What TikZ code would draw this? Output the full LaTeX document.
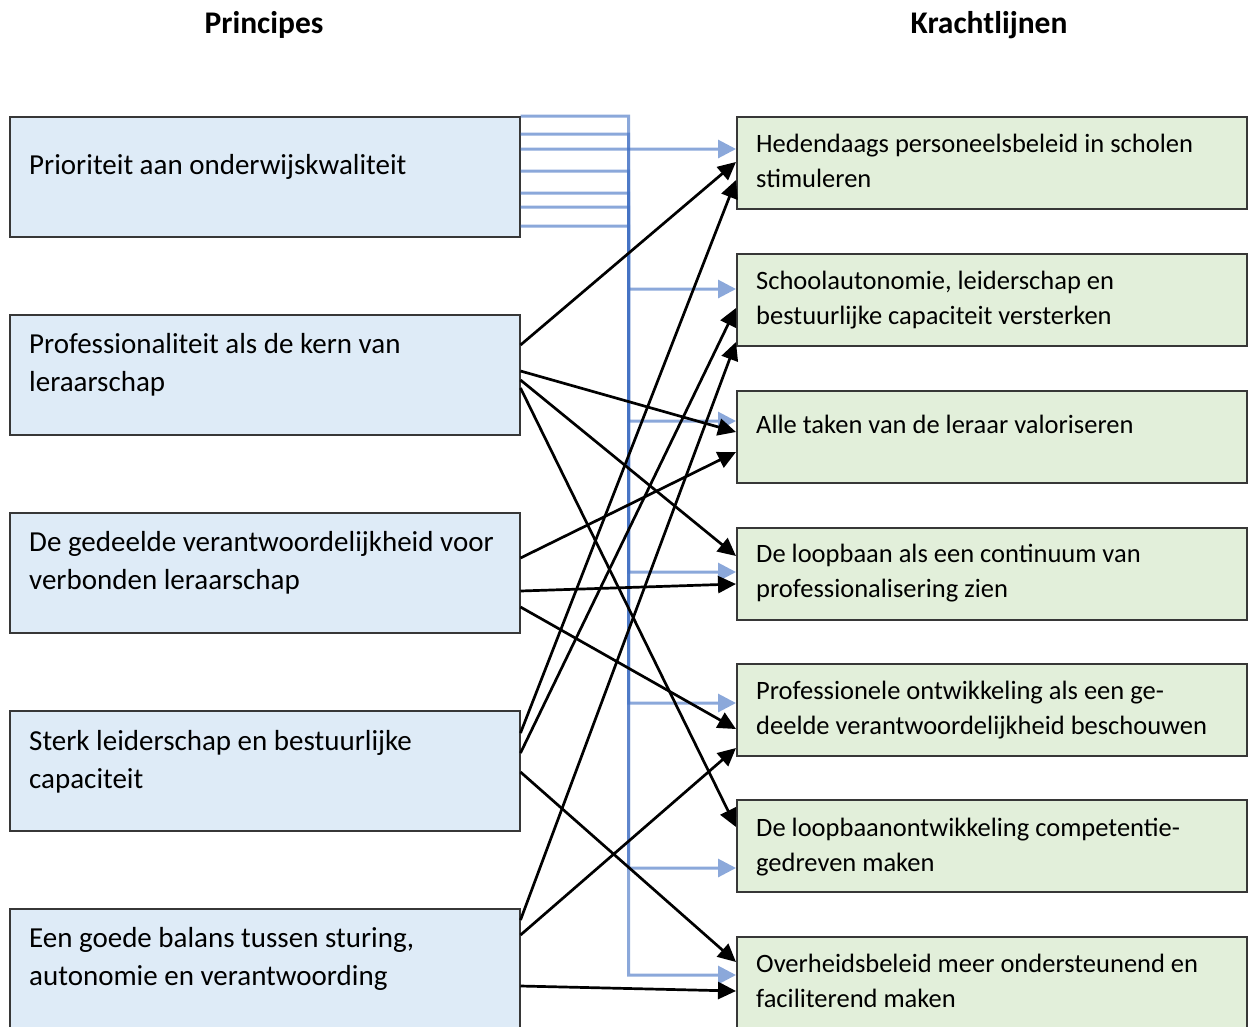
\documentclass[tikz,border=0pt]{standalone}
\usepackage{fontspec}
\setmainfont{Carlito}
\usetikzlibrary{arrows.meta}
\definecolor{boxblue}{RGB}{222,235,247}
\definecolor{boxgreen}{RGB}{226,239,218}
\definecolor{edgegray}{RGB}{55,55,55}
\definecolor{linkblue}{RGB}{68,114,196}
\begin{document}
\begin{tikzpicture}[x=1pt,y=-1pt,
  principle/.style={draw=edgegray,line width=1.5pt,fill=boxblue,minimum width=510pt,minimum height=120pt,inner sep=0pt,anchor=north west},
  krachtlijn/.style={draw=edgegray,line width=1.5pt,fill=boxgreen,minimum width=510pt,minimum height=92pt,inner sep=0pt,anchor=north west},
  ltext/.style={anchor=base west,inner sep=0pt,align=left,font=\fontsize{29}{38}\selectfont},
  rtext/.style={anchor=base west,inner sep=0pt,align=left,font=\fontsize{26.5}{35}\selectfont},
  coltitle/.style={anchor=base,inner sep=0pt,font=\bfseries\fontsize{31.5}{36}\selectfont},
  linkgroup/.style={transparency group,opacity=0.62},
  link/.style={draw=linkblue,line width=3pt,-{Triangle[length=18pt,width=18pt]}},
  arr/.style={draw=black,line width=2.7pt,-{Triangle[length=18pt,width=17pt]}}
]
\clip (0,0) rectangle (1253,1026);

% titles
\node[coltitle] (tp) at (264,33) {Principes};
\node[coltitle] (tk) at (989,33) {Krachtlijnen};

% left boxes
\node[principle] (L1) at (9,116) {};
\node[principle] (L2) at (9,314) {};
\node[principle] (L3) at (9,512) {};
\node[principle] (L4) at (9,710) {};
\node[principle, minimum height=125pt] (L5) at (9,908) {};

% right boxes
\node[krachtlijn] (R1) at (736,116) {};
\node[krachtlijn] (R2) at (736,253) {};
\node[krachtlijn] (R3) at (736,390) {};
\node[krachtlijn] (R4) at (736,527) {};
\node[krachtlijn] (R5) at (736,663) {};
\node[krachtlijn] (R6) at (736,799) {};
\node[krachtlijn, minimum height=96pt] (R7) at (736,936) {};

% texts (anchor = baseline of the last line)
\node[ltext] (tL1) at (29,174) {Prioriteit aan onderwijskwaliteit};
\node[ltext] (tL2) at (29,391) {Professionaliteit als de kern van\\leraarschap};
\node[ltext] (tL3) at (29,589) {De gedeelde verantwoordelijkheid voor\\verbonden leraarschap};
\node[ltext] (tL4) at (29,788) {Sterk leiderschap en bestuurlijke\\capaciteit};
\node[ltext] (tL5) at (29,985) {Een goede balans tussen sturing,\\autonomie en verantwoording};

\node[rtext] (tR1) at (756,187) {Hedendaags personeelsbeleid in scholen\\stimuleren};
\node[rtext] (tR2) at (756,324) {Schoolautonomie, leiderschap en\\bestuurlijke capaciteit versterken};
\node[rtext] (tR3) at (756,433) {Alle taken van de leraar valoriseren};
\node[rtext] (tR4) at (756,597) {De loopbaan als een continuum van\\professionalisering zien};
\node[rtext] (tR5) at (756,734) {Professionele ontwikkeling als een ge-\\deelde verantwoordelijkheid beschouwen};
\node[rtext] (tR6) at (756,871) {De loopbaanontwikkeling competentie-\\gedreven maken};
\node[rtext] (tR7) at (756,1007) {Overheidsbeleid meer ondersteunend en\\faciliterend maken};

% blue elbow connectors from box L1
\begin{scope}[linkgroup]
\draw[link] ([yshift=-33pt]L1.north east) -- ([yshift=-33pt]R1.north west);
\end{scope}
\begin{scope}[linkgroup]
\draw[link] ([yshift=0pt]L1.north east) -- ++(108,0) |- ([yshift=-36pt]R2.north west);
\end{scope}
\begin{scope}[linkgroup]
\draw[link] ([yshift=-18pt]L1.north east) -- ++(108,0) |- ([yshift=-31pt]R3.north west);
\end{scope}
\begin{scope}[linkgroup]
\draw[link] ([yshift=-55pt]L1.north east) -- ++(108,0) |- ([yshift=-45pt]R4.north west);
\end{scope}
\begin{scope}[linkgroup]
\draw[link] ([yshift=-77pt]L1.north east) -- ++(108,0) |- ([yshift=-40pt]R5.north west);
\end{scope}
\begin{scope}[linkgroup]
\draw[link] ([yshift=-91pt]L1.north east) -- ++(108,0) |- ([yshift=-69pt]R6.north west);
\end{scope}
\begin{scope}[linkgroup]
\draw[link] ([yshift=-110pt]L1.north east) -- ++(108,0) |- ([yshift=-39pt]R7.north west);
\end{scope}

% black arrows
\draw[arr] ([yshift=-31pt]L2.north east) -- ([yshift=-46pt]R1.north west);
\draw[arr] ([yshift=-23pt]L4.north east) -- ([yshift=-64pt]R1.north west);
\draw[arr] ([yshift=-43pt]L4.north east) -- ([yshift=-55pt]R2.north west);
\draw[arr] ([yshift=-12pt]L5.north east) -- ([yshift=-89pt]R2.north west);
\draw[arr] ([yshift=-57pt]L2.north east) -- ([yshift=-42pt]R3.north west);
\draw[arr] ([yshift=-46pt]L3.north east) -- ([yshift=-62pt]R3.north west);
\draw[arr] ([yshift=-66pt]L2.north east) -- ([yshift=-29pt]R4.north west);
\draw[arr] ([yshift=-79pt]L3.north east) -- ([yshift=-57pt]R4.north west);
\draw[arr] ([yshift=-95pt]L3.north east) -- ([yshift=-66pt]R5.north west);
\draw[arr] ([yshift=-27pt]L5.north east) -- ([yshift=-85pt]R5.north west);
\draw[arr] ([yshift=-74pt]L2.north east) -- ([yshift=-28pt]R6.north west);
\draw[arr] ([yshift=-62pt]L4.north east) -- ([yshift=-26pt]R7.north west);
\draw[arr] ([yshift=-78pt]L5.north east) -- ([yshift=-55pt]R7.north west);
\end{tikzpicture}
\end{document}
